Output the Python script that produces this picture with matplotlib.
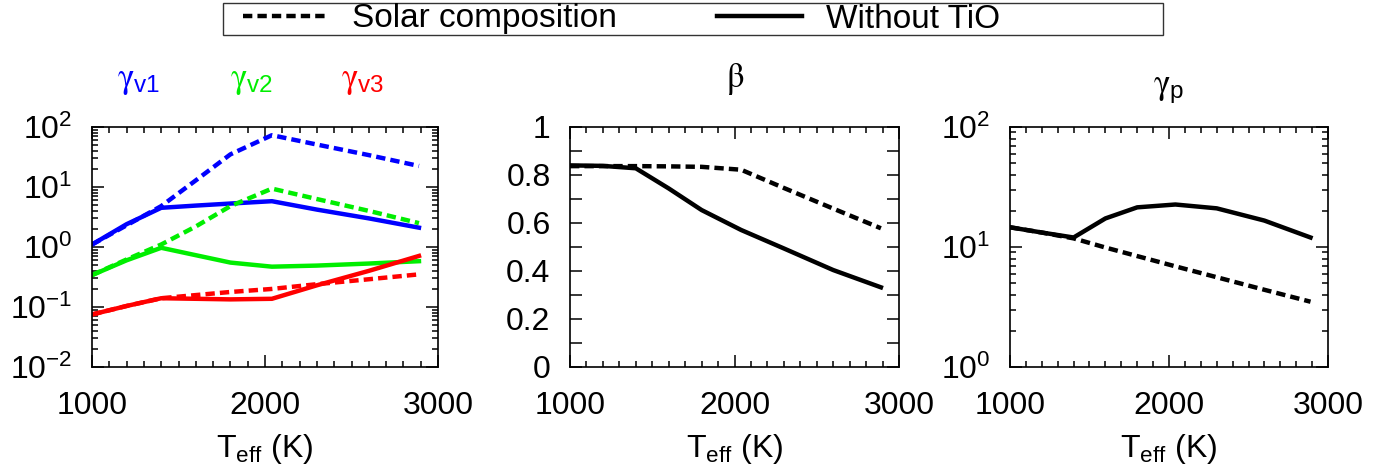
import matplotlib
matplotlib.use('Agg')
import matplotlib.pyplot as plt
from matplotlib.ticker import MultipleLocator, LogLocator, NullFormatter, FuncFormatter
from matplotlib.patches import Rectangle

plt.rcParams['font.family'] = ['Liberation Sans', 'DejaVu Sans']
plt.rcParams['mathtext.fontset'] = 'custom'
plt.rcParams['mathtext.rm'] = 'Liberation Sans'
plt.rcParams['mathtext.it'] = 'Liberation Sans:italic'
plt.rcParams['mathtext.bf'] = 'Liberation Sans:bold'

# --------------- data ---------------
teff = [1000, 1200, 1400, 1600, 1800, 2040, 2300, 2600, 2890]

gv1_solar = [1.1, 2.3, 4.8, 12.9, 35, 73, 51, 34, 22.4]
gv1_notio = [1.1, 2.4, 4.5, 4.9, 5.3, 5.8, 4.2, 3.0, 2.1]
gv2_solar = [0.34, 0.62, 1.1, 2.2, 4.8, 9.4, 6.3, 4.0, 2.5]
gv2_notio = [0.34, 0.6, 0.97, 0.73, 0.55, 0.47, 0.49, 0.53, 0.58]
gv3_solar = [0.075, 0.104, 0.14, 0.158, 0.178, 0.2, 0.24, 0.29, 0.35]
gv3_notio = [0.075, 0.104, 0.14, 0.137, 0.134, 0.137, 0.23, 0.40, 0.71]

beta_solar = [0.837, 0.837, 0.837, 0.836, 0.834, 0.822, 0.746, 0.66, 0.578]
beta_notio = [0.84, 0.838, 0.828, 0.744, 0.654, 0.571, 0.494, 0.404, 0.332]

gp_solar = [14.6, 13.2, 11.8, 9.9, 8.4, 6.9, 5.6, 4.4, 3.5]
gp_notio = [14.6, 13.2, 12.0, 17.3, 21.4, 22.6, 21.0, 16.6, 12.0]

# --------------- figure ---------------
W, H = 1397, 475
fig = plt.figure(figsize=(W / 100, H / 100), dpi=100)

fs = 23
lw = 3.2
dash = (0, (2.1, 1.15))
greek = ['STIXGeneral', 'DejaVu Sans']


def px_axes(x0, x1, y0, y1):
    return fig.add_axes([x0 / W, 1 - y1 / H, (x1 - x0) / W, (y1 - y0) / H])


ax1 = px_axes(92, 438, 127, 367)
ax2 = px_axes(570, 899, 127, 367)
ax3 = px_axes(1010, 1328, 127, 367)

for ax in (ax1, ax2, ax3):
    ax.set_xlim(1000, 3000)
    ax.xaxis.set_major_locator(MultipleLocator(1000))
    ax.xaxis.set_minor_locator(MultipleLocator(100))
    ax.tick_params(which='both', direction='in', top=True, right=True, width=1.1,
                   labelsize=fs, colors='black')
    ax.tick_params(which='major', length=8.6)
    ax.tick_params(which='minor', length=4.3)
    ax.tick_params(axis='x', pad=17)
    ax.tick_params(axis='y', pad=14)
    for s in ax.spines.values():
        s.set_linewidth(1.2)
    ax.set_xlabel(r'T$_{\rm eff}$ (K)', fontsize=fs, labelpad=8)

# panel 1: gamma_v
ax1.plot(teff, gv1_solar, color='#0000ff', lw=lw, linestyle=dash)
ax1.plot(teff, gv1_notio, color='#0000ff', lw=lw)
ax1.plot(teff, gv2_solar, color='#00ee00', lw=lw, linestyle=dash)
ax1.plot(teff, gv2_notio, color='#00ee00', lw=lw)
ax1.plot(teff, gv3_solar, color='#ff0000', lw=lw, linestyle=dash)
ax1.plot(teff, gv3_notio, color='#ff0000', lw=lw)
ax1.set_yscale('log')
ax1.set_ylim(1e-2, 1e2)

ax1.text(0.136, 1.167, r'γ$_{\rm v1}$', color='#0000ff', fontsize=fs + 2,
         family=greek, ha='center', va='baseline', transform=ax1.transAxes)
ax1.text(0.462, 1.167, r'γ$_{\rm v2}$', color='#00ee00', fontsize=fs + 2,
         family=greek, ha='center', va='baseline', transform=ax1.transAxes)
ax1.text(0.783, 1.167, r'γ$_{\rm v3}$', color='#ff0000', fontsize=fs + 2,
         family=greek, ha='center', va='baseline', transform=ax1.transAxes)

# panel 2: beta
l_solar, = ax2.plot(teff, beta_solar, color='black', lw=lw, linestyle=dash,
                    label='Solar composition')
l_notio, = ax2.plot(teff, beta_notio, color='black', lw=lw, label='Without TiO')
ax2.set_ylim(0, 1)
ax2.yaxis.set_major_locator(MultipleLocator(0.2))
ax2.yaxis.set_minor_locator(MultipleLocator(0.1))
ax2.yaxis.set_major_formatter(FuncFormatter(lambda v, p: '%g' % round(v, 2)))
ax2.tick_params(axis='y', which='minor', length=8.6)
ax2.text(0.5, 1.167, 'β', fontsize=fs + 2, family=greek, ha='center',
         va='baseline', transform=ax2.transAxes)

# panel 3: gamma_p
ax3.plot(teff, gp_solar, color='black', lw=lw, linestyle=dash)
ax3.plot(teff, gp_notio, color='black', lw=lw)
ax3.set_yscale('log')
ax3.set_ylim(1, 100)
ax3.text(0.5, 1.14, r'γ$_{\rm p}$', fontsize=fs + 2, family=greek, ha='center',
         va='baseline', transform=ax3.transAxes)

for ax in (ax1, ax3):
    ax.yaxis.set_major_locator(LogLocator(base=10, numticks=10))
    ax.yaxis.set_minor_locator(LogLocator(base=10, subs=range(2, 10), numticks=50))
    ax.yaxis.set_minor_formatter(NullFormatter())

# legend across the top
lfs = 24
fig.add_artist(Rectangle((223 / W, 1 - 35 / H), (1163 - 223) / W, 32 / H,
                         transform=fig.transFigure, fill=False, lw=1.0,
                         edgecolor='#333333'))
fig.legend(handles=[l_solar, l_notio], loc='center left',
           bbox_to_anchor=(243 / W, 1 - 19 / H), ncol=2, frameon=False,
           fontsize=lfs, handlelength=2.55, handletextpad=0.72,
           columnspacing=3.0, borderpad=0, borderaxespad=0)

fig.savefig('out.png', dpi=100)
